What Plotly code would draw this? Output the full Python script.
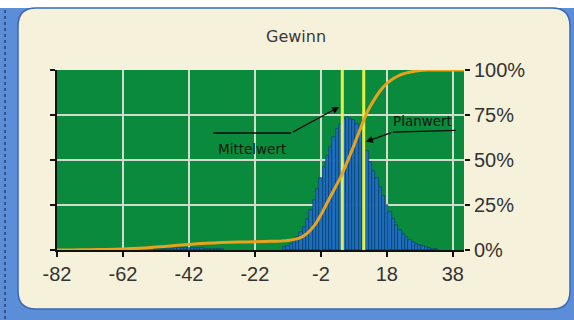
import plotly.graph_objects as go

# ---------------- data ----------------
title_text = "Gewinn"
x_tickvals = [-82, -62, -42, -22, -2, 18, 38]
x_ticktext = ["-82", "-62", "-42", "-22", "-2", "18", "38"]
y_tickvals = [0, 25, 50, 75, 100]
y_ticktext = ["0%", "25%", "50%", "75%", "100%"]

# histogram (bin centres, bin width 1) - left tail
tail_x = list(range(-52, -31))
tail_y = [0.3, 0.4, 0.5, 0.6, 0.7, 0.8, 0.9, 1.0, 1.0, 1.1, 1.1, 1.0,
          1.0, 0.9, 0.9, 0.8, 0.7, 0.6, 0.5, 0.4, 0.3]
# histogram main body
main_x = list(range(-13, 34))
main_y = [1.5, 2.5, 3.5, 5, 7, 10, 13, 17, 22, 28, 34, 40, 46, 52, 57, 63,
          67, 70, 73, 74, 73, 72, 70, 66, 60, 55, 49, 44, 40, 35, 30, 25,
          21, 17, 14, 11, 9, 7, 5.5, 4.5, 3.5, 2.8, 2, 1.5, 1, 0.6, 0.3]

# cumulative distribution (percent)
cum_x = [-82, -77, -72, -67, -62, -57, -52, -47, -42, -37, -32, -27, -22,
         -17, -14, -12, -10, -8, -6, -4, -2, 0, 2, 4, 6, 8, 10, 12, 14, 16,
         18, 20, 22, 24, 26, 28, 30, 41.4]
cum_y = [0, 0.05, 0.15, 0.3, 0.6, 1.0, 1.6, 2.4, 3.1, 3.7, 4.1, 4.4, 4.6,
         4.8, 5.0, 5.3, 5.9, 7.0, 9.5, 13.5, 19.5, 26.5, 33.5, 40.5, 49, 58,
         67.5, 76.5, 83, 88.5, 92.5, 95.3, 97.2, 98.4, 99.2, 99.7, 100, 100]

mittelwert = 4.5
planwert = 11.0

x_range = [-82, 41.4]
y_range = [0, 100]

# ---------------- figure ----------------
W, H = 574, 320
L, R, T, B = 57, 110, 70, 70
PW, PH = W - L - R, H - T - B


def fx(px):
    return (px - L) / PW


def fy(py):
    return (H - B - py) / PH


fig = go.Figure()

fig.add_trace(go.Bar(x=tail_x + main_x, y=tail_y + main_y, width=1.0,
                     marker=dict(color="#1e6ebe",
                                 line=dict(color="#0b3566", width=0.6)),
                     showlegend=False, hoverinfo="skip"))

for v in (mittelwert, planwert):
    fig.add_trace(go.Scatter(x=[v, v], y=y_range, mode="lines",
                             line=dict(color="#e4f04a", width=3),
                             showlegend=False, hoverinfo="skip"))

fig.add_trace(go.Scatter(x=cum_x, y=cum_y, mode="lines",
                         line=dict(color="#e8a21c", width=3, shape="spline",
                                   smoothing=0.4),
                         showlegend=False, hoverinfo="skip"))

# invisible trace for right axis
fig.add_trace(go.Scatter(x=[x_range[0]], y=[0], yaxis="y2", mode="markers",
                         marker=dict(opacity=0), showlegend=False,
                         hoverinfo="skip"))

# ------------- background shapes -------------
x0p, x1p = fx(18), fx(570)
ytp, ybp = fy(8), fy(309)
rx, ry = 18 / PW, 18 / PH
panel_path = (
    f"M {x0p+rx},{ytp} L {x1p-rx},{ytp} Q {x1p},{ytp} {x1p},{ytp-ry} "
    f"L {x1p},{ybp+ry} Q {x1p},{ybp} {x1p-rx},{ybp} "
    f"L {x0p+rx},{ybp} Q {x0p},{ybp} {x0p},{ybp+ry} "
    f"L {x0p},{ytp-ry} Q {x0p},{ytp} {x0p+rx},{ytp} Z"
)

shapes = [
    dict(type="rect", xref="paper", yref="paper", x0=fx(0), x1=fx(W),
         y0=fy(0), y1=fy(8), fillcolor="white", line=dict(width=0),
         layer="below"),
    dict(type="line", xref="paper", yref="paper", x0=fx(5), x1=fx(5),
         y0=fy(10), y1=fy(H), line=dict(color="#24407a", width=1.5,
                                         dash="dot"), layer="below"),
    dict(type="path", xref="paper", yref="paper", path=panel_path,
         fillcolor="#f6f1db", line=dict(color="#3a66b8", width=1.5),
         layer="below"),
    dict(type="rect", xref="paper", yref="paper", x0=0, x1=1, y0=0, y1=1,
         fillcolor="#0a8a3c", line=dict(width=0), layer="below"),
    # annotation leader lines (horizontal parts)
    dict(type="line", xref="x", yref="y", x0=-34.6, x1=-11, y0=65, y1=65,
         line=dict(color="#0a0a0a", width=1.3), layer="above"),
    dict(type="line", xref="x", yref="y", x0=19.8, x1=39, y0=65.5, y1=66.5,
         line=dict(color="#0a0a0a", width=1.3), layer="above"),
]

annotations = [
    dict(text=title_text, xref="paper", yref="paper", x=fx(296), y=fy(36),
         xanchor="center", yanchor="middle", showarrow=False,
         font=dict(family="DejaVu Sans", size=16, color="#3a3a3a")),
    dict(text="Mittelwert", xref="x", yref="y", x=-22.8, y=56,
         xanchor="center", yanchor="middle", showarrow=False,
         font=dict(family="DejaVu Sans", size=13.5, color="#0c1a0c")),
    dict(text="Planwert", xref="x", yref="y", x=28.8, y=71.5,
         xanchor="center", yanchor="middle", showarrow=False,
         font=dict(family="DejaVu Sans", size=13.5, color="#0c1a0c")),
    dict(text="", xref="x", yref="y", x=3.6, y=79.5, axref="x", ayref="y",
         ax=-11, ay=65, showarrow=True, arrowhead=2, arrowsize=1.1,
         arrowwidth=1.3, arrowcolor="#0a0a0a"),
    dict(text="", xref="x", yref="y", x=11.6, y=60.2, axref="x", ayref="y",
         ax=19.8, ay=65.5, showarrow=True, arrowhead=2, arrowsize=1.1,
         arrowwidth=1.3, arrowcolor="#0a0a0a"),
]

tickfont = dict(family="Liberation Sans", size=20, color="#333333")

fig.update_layout(
    width=W, height=H,
    margin=dict(l=L, r=R, t=T, b=B, pad=0),
    paper_bgcolor="#5b8ed6",
    plot_bgcolor="rgba(0,0,0,0)",
    bargap=0,
    shapes=shapes,
    annotations=annotations,
    xaxis=dict(range=x_range, tickvals=x_tickvals, ticktext=x_ticktext,
               ticks="outside",
               ticklen=5, tickwidth=1.5, tickcolor="#111111",
               showline=True, linecolor="#111111", linewidth=2,
               showgrid=True, gridcolor="#d2dccc", gridwidth=1.5,
               zeroline=False, tickfont=tickfont),
    yaxis=dict(range=y_range, tickvals=y_tickvals, showticklabels=False,
               ticks="outside", ticklen=5, tickwidth=1.5,
               tickcolor="#111111", showline=True, linecolor="#111111",
               linewidth=2, showgrid=True, gridcolor="#d2dccc",
               gridwidth=1.5, zeroline=False),
    yaxis2=dict(range=y_range, tickvals=y_tickvals, ticktext=y_ticktext,
                overlaying="y", side="right", ticks="outside", ticklen=5,
                tickwidth=1.5, tickcolor="#111111", showline=False,
                showgrid=False, zeroline=False, tickfont=tickfont),
)

fig.write_html("out.html",
               config={"displayModeBar": False},
               post_script="document.body.style.margin='0';"
                           "document.body.style.overflow='hidden';")
